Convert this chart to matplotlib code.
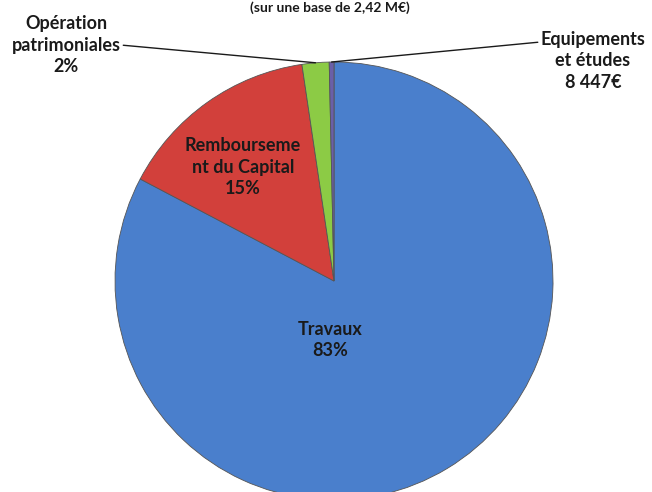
import numpy as np
import matplotlib
matplotlib.use("Agg")
import matplotlib.pyplot as plt

categories = ["Travaux", "Rembourseme\nnt du Capital", "Opération\npatrimoniales", "Equipements\net études"]
values = [83, 15, 2, 0.35]
value_labels = ["83%", "15%", "2%", "8 447€"]
colors = ["#4A7FCC", "#D2403B", "#8CCB45", "#6A5FA8"]
title = "(sur une base de 2,42 M€)"

W, H = 652, 492
fig = plt.figure(figsize=(W / 100, H / 100), dpi=100)
ax = fig.add_axes([0, 0, 1, 1])

cx, cy, R = 334, H - 281, 219
wedges, _ = ax.pie(values, colors=colors, startangle=90, counterclock=False,
                   center=(cx, cy), radius=R,
                   wedgeprops=dict(edgecolor="#555555", linewidth=0.6))
ax.set_xlim(0, W)
ax.set_ylim(0, H)
ax.set_aspect("equal")
ax.axis("off")

font = dict(family=["Lato", "DejaVu Sans"], fontweight="bold", fontsize=13, color="#1a1a1a")

def mid_point(w, r):
    a = np.deg2rad((w.theta1 + w.theta2) / 2)
    return cx + r * np.cos(a), cy + r * np.sin(a)

# inside labels
for i, (dx, dy) in [(0, (330, 340)), (1, (243, 167))]:
    ax.text(dx, H - dy, categories[i] + "\n" + value_labels[i], ha="center", va="center",
            linespacing=1.3, **font)

# outside labels with leader lines
px, py = mid_point(wedges[2], R)
ax.annotate(categories[2] + "\n" + value_labels[2], xy=(px, py), xytext=(66, H - 45),
            ha="center", va="center", linespacing=1.3, **font,
            arrowprops=dict(arrowstyle="-", color="#1a1a1a", lw=1.0,
                            relpos=(1.0, 0.5), shrinkA=0, shrinkB=0))
px, py = mid_point(wedges[3], R)
ax.annotate(categories[3] + "\n" + value_labels[3], xy=(px, py), xytext=(593, H - 61),
            ha="center", va="center", linespacing=1.3, **font,
            arrowprops=dict(arrowstyle="-", color="#1a1a1a", lw=1.0,
                            relpos=(0.0, 0.82), shrinkA=0, shrinkB=0))

ax.text(330, H - 1, title, ha="center", va="top", family=["Lato", "DejaVu Sans"],
        fontweight="bold", fontsize=10, color="#1a1a1a")

fig.savefig("out.png", dpi=100)
